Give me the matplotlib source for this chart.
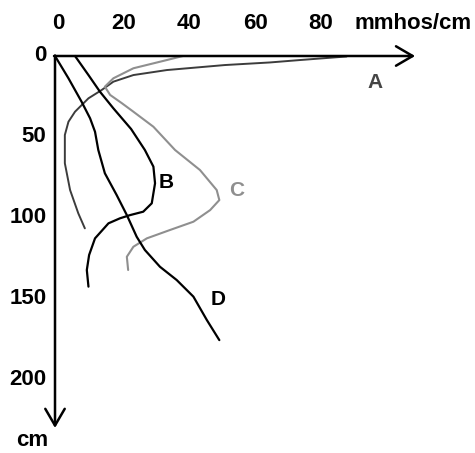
import matplotlib
matplotlib.use('Agg')
import matplotlib.pyplot as plt

plt.rcParams['font.family'] = ['Liberation Sans', 'DejaVu Sans']

# depth profiles: conductivity (mmhos/cm) vs depth (cm)
a_x = [88.9, 74.7, 65.5, 51.8, 34.1, 23.9, 17.8, 14.2, 10.2, 6.1, 4.1, 3.0, 3.0, 3.0, 4.6, 7.1, 9.1]
a_y = [0.3, 2.5, 4.0, 5.6, 8.7, 11.8, 15.9, 21.1, 26.2, 34.5, 40.7, 48.9, 56.2, 66.4, 83.0, 97.4, 106.7]

b_x = [6.1, 10.2, 13.7, 17.8, 23.2, 27.4, 30.0, 30.5, 29.5, 26.9, 22.9, 19.8, 16.3, 12.2, 10.4, 9.7, 10.2]
b_y = [0.0, 11.8, 22.1, 32.4, 45.2, 58.2, 68.5, 78.8, 91.2, 96.4, 98.5, 100.5, 103.6, 112.9, 123.2, 132.5, 142.8]

c_x = [39.0, 34.1, 23.9, 17.8, 15.2, 16.8, 20.3, 23.9, 30.0, 36.6, 44.2, 49.3, 50.1, 47.3, 42.2, 35.1, 28.0, 23.9, 21.9, 22.3]
c_y = [0.0, 2.5, 7.6, 13.8, 19.0, 24.1, 29.1, 34.5, 43.8, 58.2, 70.6, 83.0, 89.2, 95.4, 102.6, 107.7, 112.9, 118.1, 124.3, 132.5]

d_x = [0.0, 4.1, 8.1, 10.7, 12.2, 13.2, 15.2, 18.8, 21.9, 24.9, 27.4, 32.0, 37.1, 42.2, 46.3, 50.1]
d_y = [0.0, 13.8, 28.3, 38.6, 46.9, 58.2, 72.6, 86.1, 98.5, 111.9, 120.1, 130.5, 138.7, 149.0, 163.5, 175.9]

x_ticks = [0, 20, 40, 60, 80]
y_ticks = [0, 50, 100, 150, 200]

fig = plt.figure(figsize=(4.75, 4.53), dpi=100)
ax = fig.add_axes([0, 0, 1, 1])
ax.set_xlim(-16.77, 128.05)
ax.set_ylim(245.8, -34.67)
ax.axis('off')

# curves
ax.plot(a_x, a_y, color='#3c3c3c', lw=1.4, solid_capstyle='round', solid_joinstyle='round')
ax.plot(c_x, c_y, color='#8f8f8f', lw=1.5, solid_capstyle='round', solid_joinstyle='round')
ax.plot(b_x, b_y, color='black', lw=1.6, solid_capstyle='round', solid_joinstyle='round')
ax.plot(d_x, d_y, color='black', lw=1.6, solid_capstyle='round', solid_joinstyle='round')

# axes with arrows
arrow = dict(arrowstyle='->,head_length=0.6,head_width=0.35', lw=1.8,
             color='black', shrinkA=0, shrinkB=0, mutation_scale=20)
ax.annotate('', xy=(109.8, 0), xytext=(-0.3, 0), arrowprops=arrow)
ax.annotate('', xy=(0, 230.3), xytext=(0, -0.3), arrowprops=arrow)

# tick labels
for t in x_ticks:
    ax.text(t + 1, -20.4, str(t), ha='center', va='center', fontsize=16, fontweight='bold')
for t in y_ticks:
    ax.text(-2.6, t, str(t), ha='right', va='center', fontsize=16, fontweight='bold')
ax.text(109.3, -20.4, 'mmhos/cm', ha='center', va='center', fontsize=16, fontweight='bold')
ax.text(-6.9, 238.0, 'cm', ha='center', va='center', fontsize=16, fontweight='bold')

# curve labels
ax.text(97.6, 16.1, 'A', ha='center', va='center', fontsize=15, fontweight='bold', color='#454545')
ax.text(33.8, 78.6, 'B', ha='center', va='center', fontsize=15, fontweight='bold', color='black')
ax.text(55.4, 83.0, 'C', ha='center', va='center', fontsize=15, fontweight='bold', color='#8f8f8f')
ax.text(49.7, 151.0, 'D', ha='center', va='center', fontsize=15, fontweight='bold', color='black')

fig.savefig('out.png', dpi=100)
